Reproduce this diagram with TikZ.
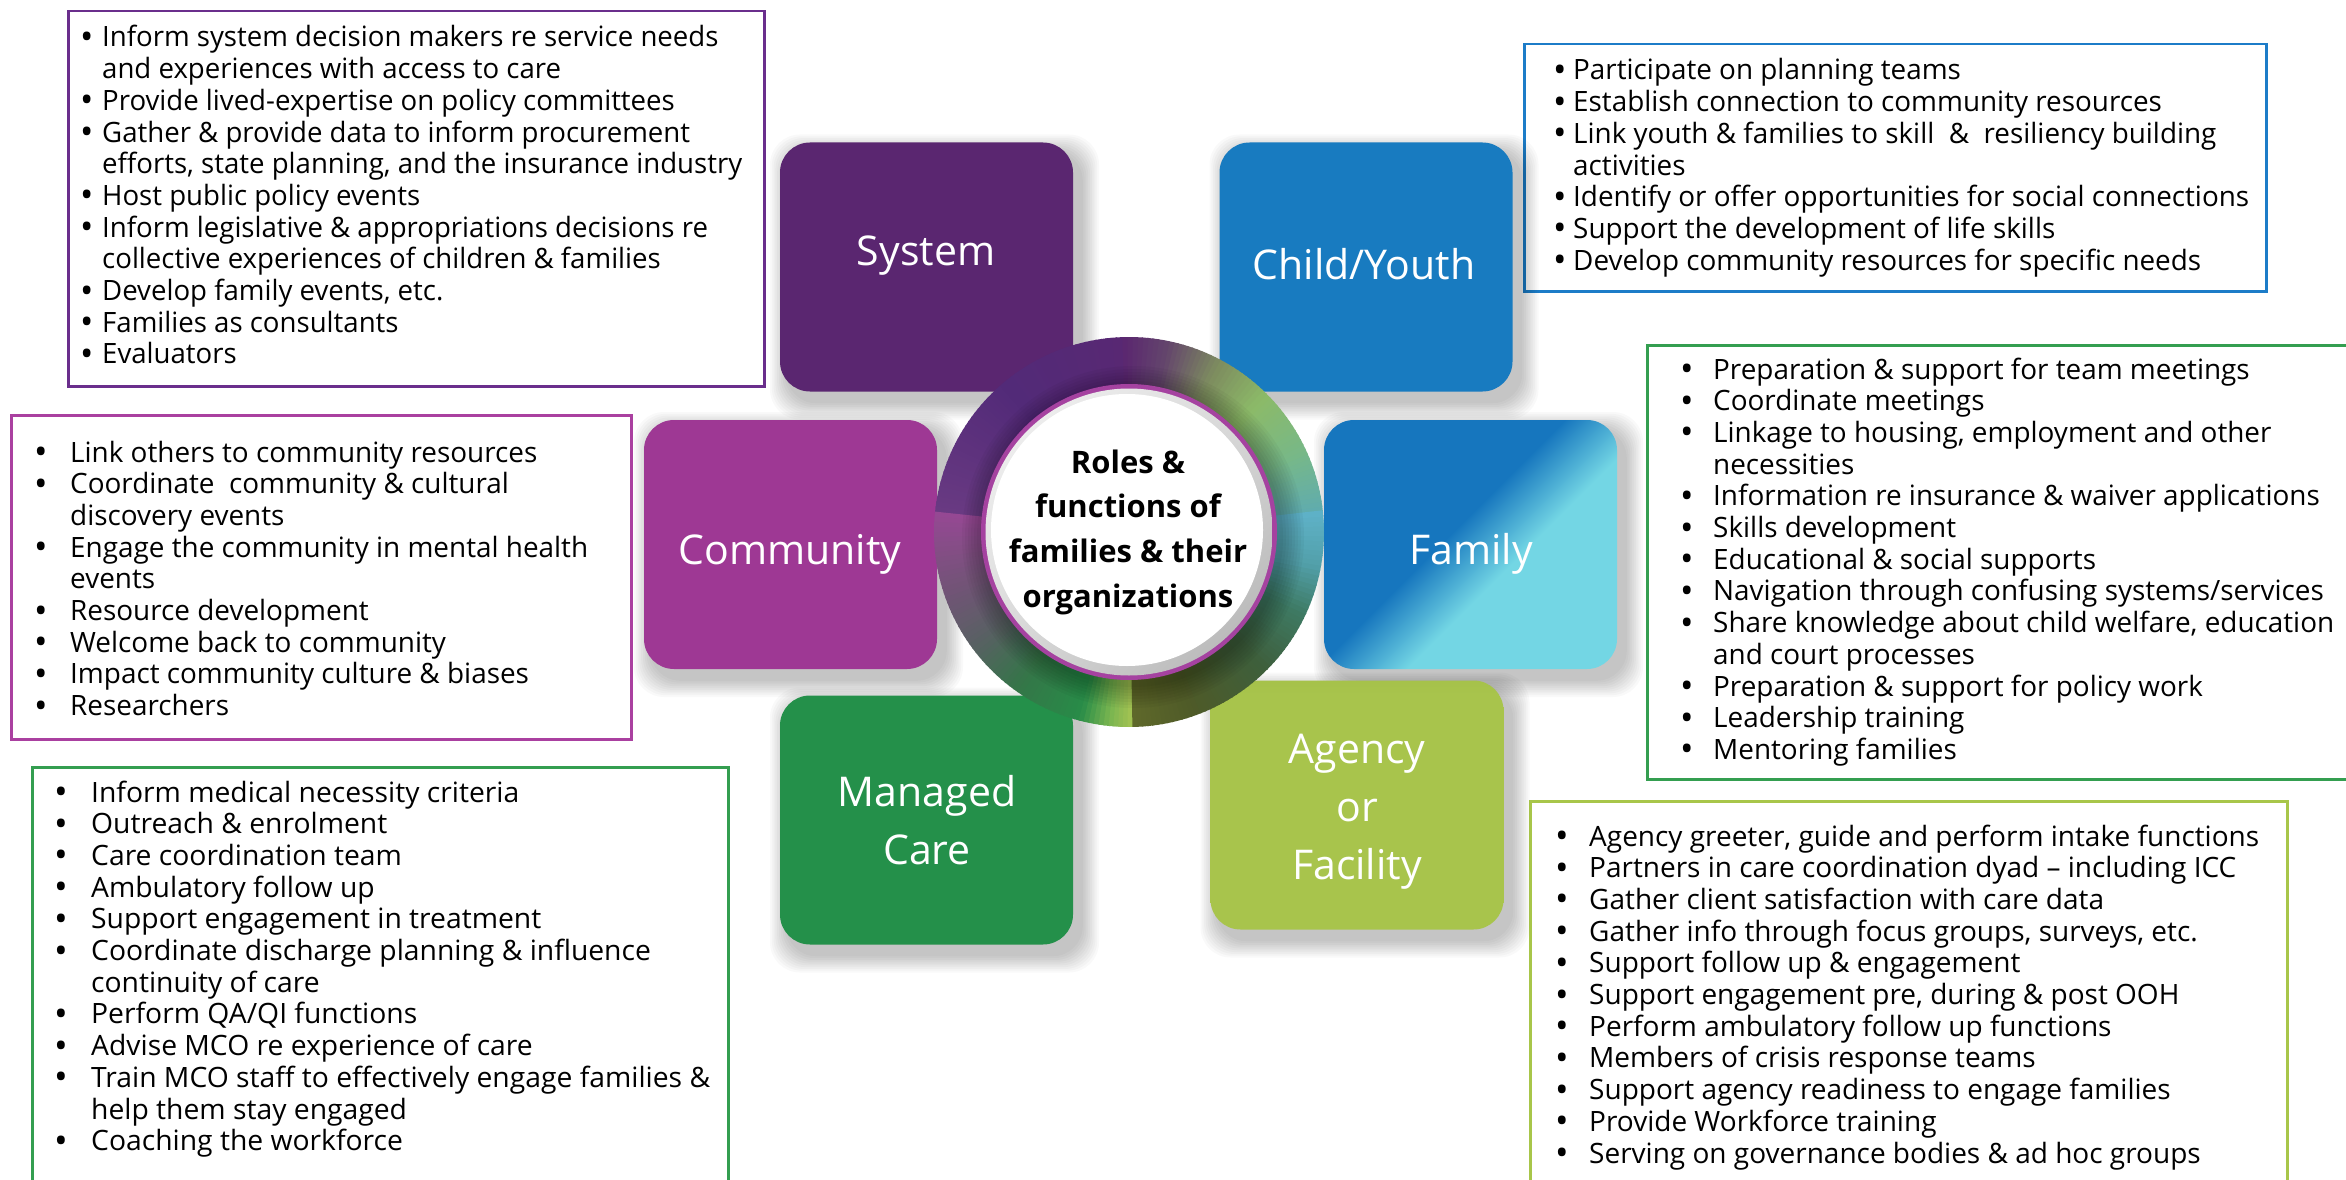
\documentclass[tikz,border=0pt]{standalone}
\usepackage{fontspec}
\setmainfont{Open Sans}
\usepackage{graphicx}
\usetikzlibrary{shadings}

\definecolor{sysc}{RGB}{90,38,112}
\definecolor{chic}{RGB}{24,123,192}
\definecolor{comc}{RGB}{158,56,148}
\definecolor{famA}{RGB}{22,118,190}
\definecolor{famB}{RGB}{115,214,228}
\definecolor{manc}{RGB}{36,144,74}
\definecolor{agec}{RGB}{168,196,76}
\definecolor{agetop}{RGB}{145,172,58}
\definecolor{sysb}{RGB}{106,46,140}
\definecolor{chib}{RGB}{28,124,200}
\definecolor{famb}{RGB}{52,158,80}
\definecolor{comb}{RGB}{170,64,160}
\definecolor{manb}{RGB}{52,158,80}
\definecolor{ageb}{RGB}{168,198,74}
\definecolor{btnm}{RGB}{165,66,160}
% ring colours
\definecolor{t0}{RGB}{95,172,175}\definecolor{t1}{RGB}{120,184,135}\definecolor{t2}{RGB}{140,186,104}
\definecolor{t3}{RGB}{125,140,95}\definecolor{t4}{RGB}{100,70,108}\definecolor{t5}{RGB}{90,38,112}
\definecolor{l0}{RGB}{88,40,115}\definecolor{l1}{RGB}{82,42,120}\definecolor{l2}{RGB}{105,58,130}
\definecolor{b0}{RGB}{150,72,148}\definecolor{b1}{RGB}{118,82,122}\definecolor{b2}{RGB}{90,95,100}
\definecolor{b3}{RGB}{52,118,72}\definecolor{b4}{RGB}{40,140,72}\definecolor{b5}{RGB}{120,180,80}
\definecolor{b6}{RGB}{165,195,82}
\definecolor{r0}{RGB}{95,105,42}\definecolor{r1}{RGB}{78,90,40}\definecolor{r2}{RGB}{62,95,60}
\definecolor{r3}{RGB}{62,122,100}\definecolor{r4}{RGB}{82,160,170}\definecolor{r5}{RGB}{95,178,200}

\pgfdeclarehorizontalshading{famsh}{100bp}{color(0bp)=(famA); color(46bp)=(famA); color(58bp)=(famB); color(100bp)=(famB)}
\pgfdeclareverticalshading{agesh}{100bp}{color(0bp)=(agec); color(72bp)=(agec); color(100bp)=(agetop)}

\newlength\reflen
\newcommand\bigbul{\raisebox{-2.5pt}{\fontsize{36}{36}\selectfont •}}
\newcommand\bl[1]{\hbox{\hbox to \indnat pt{\bigbul\hss}#1}}
\newcommand\cn[1]{\hbox{\hskip\indnat pt #1}}
\newcommand\blist[4]{%
  \settowidth\reflen{#2}%
  \pgfmathsetmacro\hsx{#1/\the\reflen}%
  \pgfmathsetmacro\indnat{#3/\hsx}%
  \scalebox{\hsx}[1]{\vtop{\baselineskip=31.7pt\lineskiplimit=-100pt\lineskip=0pt #4}}}

\newcommand\sqshadow[2]{%
  \foreach \i in {1,...,10}{%
    \fill[black, opacity=0.025, rounded corners=30pt]
      (#1-146.5+8-\i*1.8, #2-124.5+10-\i*1.8) rectangle (#1+146.5+8+\i*1.8, #2+124.5+10+\i*1.8);}}

\newcommand\ringseg[4]{%
  \pgfmathsetmacro\rsn{int(max(1,round((#2-#1)/1.5)))}%
  \foreach \k in {1,...,\rsn}{%
    \pgfmathsetmacro\aa{#1+(\k-1)*(#2-#1)/\rsn}%
    \pgfmathsetmacro\ab{#1+\k*(#2-#1)/\rsn+0.4}%
    \pgfmathsetmacro\pc{100-100*(\k-0.5)/\rsn}%
    \fill[#3!\pc!#4] (-\aa:138) -- (-\aa:195) -- (-\ab:195) -- (-\ab:138) -- cycle;}}

\begin{document}
\begin{tikzpicture}[x=1pt,y=-1pt,
  sq/.style={rounded corners=30pt, minimum width=293pt, minimum height=249pt, inner sep=0pt},
  sqlabel/.style={text=white, font=\fontsize{41}{58}\selectfont, align=center, inner sep=0pt},
  frame/.style={line width=2.5pt, inner sep=0pt, anchor=north west},
  condensed/.style={font=\fontsize{28}{31.7}\selectfont, anchor=base west, inner sep=0pt},
  widef/.style={font=\fontsize{28}{31.7}\selectfont, anchor=base west, inner sep=0pt}]
\fill[white] (0,0) rectangle (2346,1180);
\useasboundingbox (0,0) rectangle (2346,1180);
\clip (0,0) rectangle (2346,1180);

% text frames
\node[frame, draw=sysb, minimum width=696pt, minimum height=375pt] (sysframe) at (67,10) {};
\node[frame, draw=chib, minimum width=742pt, minimum height=247pt] (chiframe) at (1523,43) {};
\node[frame, draw=famb, minimum width=760pt, minimum height=434pt] (famframe) at (1646,344) {};
\node[frame, draw=comb, minimum width=620pt, minimum height=324pt] (comframe) at (10,414) {};
\node[frame, draw=manb, minimum width=696pt, minimum height=460pt] (manframe) at (31,766) {};
\node[frame, draw=ageb, minimum width=757pt, minimum height=420pt] (ageframe) at (1529,800) {};

% shadows
\sqshadow{926.5}{267}
\sqshadow{1366}{267}
\sqshadow{790.5}{544.5}
\sqshadow{1470.5}{544.5}
\sqshadow{926.5}{820}
\sqshadow{1357}{805}

% squares
\node[sq, fill=sysc] (sys) at (926.5,267) {};
\node[sq, fill=chic] (chi) at (1366,267) {};
\node[sq, fill=comc] (com) at (790.5,544.5) {};
\node[sq, shade, shading=famsh, shading angle=-45] (fam) at (1470.5,544.5) {};
\node[sq, fill=manc] (man) at (926.5,820) {};
\node[sq, shade, shading=agesh] (age) at (1357,805) {};

\node[sqlabel] (syslab) at (926,256) {System};
\node[sqlabel] (chilab) at (1364,264) {Child/Youth};
\node[sqlabel] (comlab) at (790,554) {Community};
\node[sqlabel] (famlab) at (1471,554) {Family};
\node[sqlabel] (manlab) at (927,820) {Managed\\Care};
\node[sqlabel] (agelab) at (1357,812) {Agency\\or\\Facility};

% ring
\begin{scope}[shift={(1129,532)}]
  \ringseg{6}{25}{t0}{t1}
  \ringseg{25}{45}{t1}{t2}
  \ringseg{45}{62}{t2}{t3}
  \ringseg{62}{78}{t3}{t4}
  \ringseg{78}{92}{t4}{t5}
  \ringseg{92}{130}{l0}{l1}
  \ringseg{130}{174}{l1}{l2}
  \ringseg{174}{195}{b0}{b1}
  \ringseg{195}{215}{b1}{b2}
  \ringseg{215}{235}{b2}{b3}
  \ringseg{235}{255}{b3}{b4}
  \ringseg{255}{264}{b4}{b5}
  \ringseg{264}{271}{b5}{b6}
  \ringseg{271}{290}{r0}{r1}
  \ringseg{290}{315}{r1}{r2}
  \ringseg{315}{335}{r2}{r3}
  \ringseg{335}{350}{r3}{r4}
  \ringseg{350}{366}{r4}{r5}
  \foreach \i in {1,...,8}{\fill[black, opacity=0.035] (4,5) circle ({147+3*\i});}
  \fill[btnm] (0,0) circle (148);
  \shade[upper left=gray!8, lower right=gray!62, upper right=gray!30, lower left=gray!30] (0,0) circle (143.5);
  \fill[white] (-2,-2) circle (136);
\end{scope}
\node[font=\bfseries\fontsize{31}{44.7}\selectfont, align=center, inner sep=0pt] (centre) at (1128,532) {Roles \&\\functions of\\families \& their\\organizations};

% lists
\node[condensed] (systxt) at (80,47) {\blist{640}{efforts, state planning, and the insurance industry}{22}{%
\bl{Inform system decision makers re service needs}
\cn{and experiences with access to care}
\bl{Provide lived-expertise on policy committees}
\bl{Gather \& provide data to inform procurement}
\cn{efforts, state planning, and the insurance industry}
\bl{Host public policy events}
\bl{Inform legislative \& appropriations decisions re}
\cn{collective experiences of children \& families}
\bl{Develop family events, etc.}
\bl{Families as consultants}
\bl{Evaluators}}};

\node[condensed] (chitxt) at (1553,80) {\blist{676}{Identify or offer opportunities for social connections}{20}{%
\bl{Participate on planning teams}
\bl{Establish connection to community resources}
\bl{Link youth \& families to skill\ \ \&\ \ resiliency building}
\cn{activities}
\bl{Identify or offer opportunities for social connections}
\bl{Support the development of life skills}
\bl{Develop community resources for specific needs}}};

\node[condensed] (famtxt) at (1680,379) {\blist{621}{Share knowledge about child welfare, education}{33}{%
\bl{Preparation \& support for team meetings}
\bl{Coordinate meetings}
\bl{Linkage to housing, employment and other}
\cn{necessities}
\bl{Information re insurance \& waiver applications}
\bl{Skills development}
\bl{Educational \& social supports}
\bl{Navigation through confusing systems/services}
\bl{Share knowledge about child welfare, education}
\cn{and court processes}
\bl{Preparation \& support for policy work}
\bl{Leadership training}
\bl{Mentoring families}}};

\node[widef] (comtxt) at (34,462) {\blist{518}{Engage the community in mental health}{36}{%
\bl{Link others to community resources}
\bl{Coordinate\ \ community \& cultural}
\cn{discovery events}
\bl{Engage the community in mental health}
\cn{events}
\bl{Resource development}
\bl{Welcome back to community}
\bl{Impact community culture \& biases}
\bl{Researchers}}};

\node[widef] (mantxt) at (54,802) {\blist{619}{Train MCO staff to effectively engage families \&}{37}{%
\bl{Inform medical necessity criteria}
\bl{Outreach \& enrolment}
\bl{Care coordination team}
\bl{Ambulatory follow up}
\bl{Support engagement in treatment}
\bl{Coordinate discharge planning \& influence}
\cn{continuity of care}
\bl{Perform QA/QI functions}
\bl{Advise MCO re experience of care}
\bl{Train MCO staff to effectively engage families \&}
\cn{help them stay engaged}
\bl{Coaching the workforce}}};

\node[condensed] (agetxt) at (1555,846) {\blist{670}{Agency greeter, guide and perform intake functions}{34}{%
\bl{Agency greeter, guide and perform intake functions}
\bl{Partners in care coordination dyad – including ICC}
\bl{Gather client satisfaction with care data}
\bl{Gather info through focus groups, surveys, etc.}
\bl{Support follow up \& engagement}
\bl{Support engagement pre, during \& post OOH}
\bl{Perform ambulatory follow up functions}
\bl{Members of crisis response teams}
\bl{Support agency readiness to engage families}
\bl{Provide Workforce training}
\bl{Serving on governance bodies \& ad hoc groups}}};
\end{tikzpicture}
\end{document}
